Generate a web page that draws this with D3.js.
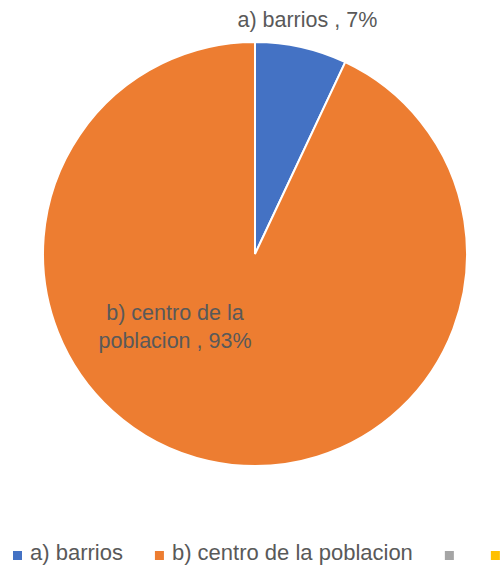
<!DOCTYPE html>
<html>
<head>
<meta charset="utf-8">
<script src="https://d3js.org/d3.v7.min.js"></script>
<style>
  body { margin: 0; background: #fff; }
  svg { display: block; font-family: "Liberation Sans", Arial, sans-serif; }
</style>
</head>
<body>
<svg width="502" height="567"></svg>
<script>
// chart data
var categories = ["a) barrios", "b) centro de la poblacion", "", ""];
var values = [7, 93, 0, 0];
var labels = [["a) barrios , 7%"], ["b) centro de la", "poblacion , 93%"]];
var colors = ["#4472C4", "#ED7D31", "#A5A5A5", "#FFC000"];

var svg = d3.select("svg");
var cx = 255, cy = 254, radius = 212;

var data = categories.map(function (c, i) {
  return { name: c, value: values[i], color: colors[i], label: labels[i] };
});

var pie = d3.pie().sort(null).value(function (d) { return d.value; });
var arc = d3.arc().innerRadius(0).outerRadius(radius);
var arcs = pie(data);

var g = svg.append("g").attr("transform", "translate(" + cx + "," + cy + ")");

g.selectAll("path")
  .data(arcs.filter(function (d) { return d.data.value > 0; }))
  .enter()
  .append("path")
  .attr("d", arc)
  .attr("fill", function (d) { return d.data.color; })
  .attr("stroke", "#fff")
  .attr("stroke-width", 2);

// data labels
var outerArc = d3.arc().innerRadius(240).outerRadius(240);
var smallPos = outerArc.centroid(arcs[0]);
var labelPos = [[smallPos[0], smallPos[1] + 7], [-80, 66]];

arcs.slice(0, 2).forEach(function (d, i) {
  var t = g.append("text")
    .attr("text-anchor", "middle")
    .attr("fill", "#595959")
    .attr("font-size", 21.5)
    .attr("transform", "translate(" + labelPos[i][0] + "," + labelPos[i][1] + ")");
  d.data.label.forEach(function (line, j) {
    t.append("tspan")
      .attr("x", 0)
      .attr("dy", j === 0 ? 0 : 28)
      .text(line);
  });
});

// legend
var legend = svg.append("g");
var lx = 13, ly = 551;
data.forEach(function (d) {
  legend.append("rect")
    .attr("x", lx).attr("y", ly)
    .attr("width", 9).attr("height", 9)
    .attr("fill", d.color);
  var t = legend.append("text")
    .attr("x", lx + 17).attr("y", ly + 9)
    .attr("fill", "#595959")
    .attr("font-size", 22)
    .text(d.name);
  var w = d.name ? t.node().getComputedTextLength() : 0;
  lx = lx + 17 + w + (d.name ? 32 : 29);
});
</script>
</body>
</html>
